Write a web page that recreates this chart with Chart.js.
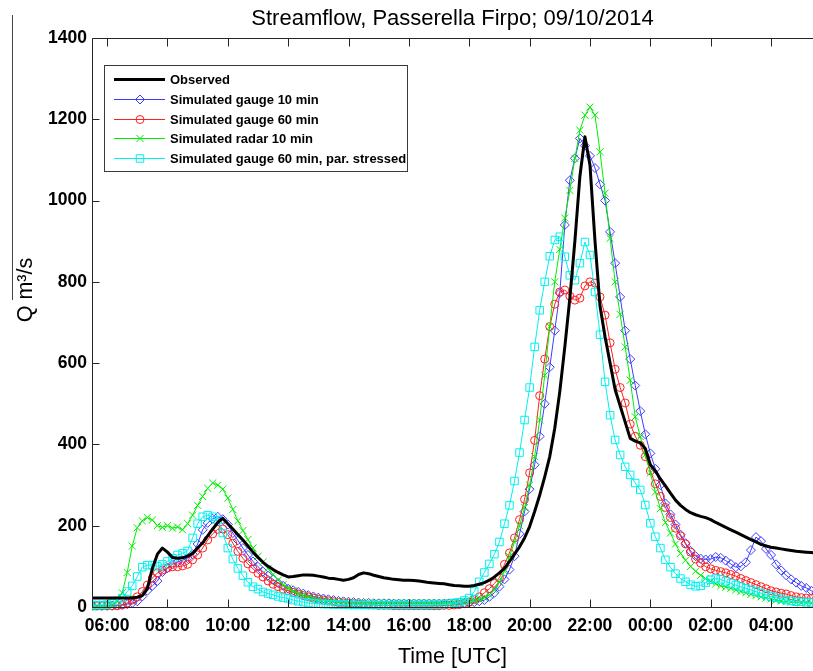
<!DOCTYPE html>
<html>
<head>
<meta charset="utf-8">
<title>Streamflow, Passerella Firpo</title>
<script src="https://cdn.jsdelivr.net/npm/chart.js@4.4.1/dist/chart.umd.min.js"></script>
<style>
  html, body { margin: 0; padding: 0; background: #fff; }
  #wrap { width: 813px; height: 671px; }
</style>
</head>
<body>
<div id="wrap"><canvas id="flowChart" width="813" height="671"></canvas></div>
<script>
// 10-minute samples, first one at 05:30 (09/10), last one at 05:30 next day
var START_HOUR = 5.5;
var STEP_HOURS = 1 / 6;

// Q [m3/s], one row per hour (first row 05:30-05:50, last row 05:00-05:30)
var observed = [
    22, 22, 22,
    22, 22, 22, 22, 22, 22,
    24, 28, 45, 95, 130, 145,
    135, 122, 120, 121, 125, 132,
    145, 158, 175, 192, 208, 218,
    205, 192, 178, 165, 150, 135,
    122, 110, 100, 92, 85, 79,
    74, 75, 77, 79, 79, 78,
    76, 74, 71, 70, 68, 66,
    68, 72, 80, 84, 82, 78,
    75, 72, 70, 68, 67, 66,
    66, 65, 64, 62, 60, 59,
    58, 57, 55, 53, 52, 51,
    51, 53, 56, 60, 66, 74,
    84, 95, 112, 130, 148, 170,
    198, 235, 275, 320, 370, 440,
    530, 640, 760, 900, 1060, 1157,
    1087, 900, 740, 665, 600, 535,
    495, 455, 415, 408, 404, 390,
    350, 335, 315, 298, 280, 263,
    250, 240, 232, 227, 223, 220,
    215, 208, 202, 196, 190, 184,
    178, 172, 166, 160, 154, 150,
    147, 145, 143, 141, 139, 137,
    136, 135, 134, 133
];

var gauge10 = [
    3, 3, 3,
    3, 3, 4, 5, 7, 10,
    14, 26, 40, 52, 64, 86,
    96, 105, 111, 115, 120, 130,
    155, 190, 207, 217, 222, 216,
    203, 182, 164, 145, 128, 112,
    99, 87, 77, 68, 59, 52,
    45, 41, 37, 33, 29, 26,
    23, 21, 19, 17, 15, 14,
    13, 12, 11, 10, 10, 9,
    9, 9, 9, 8, 8, 8,
    8, 8, 8, 8, 8, 8,
    8, 8, 9, 9, 10, 10,
    11, 12, 14, 17, 25, 35,
    50, 68, 92, 125, 180, 235,
    290, 350, 420, 500, 590, 680,
    772, 940, 1050, 1104, 1153, 1135,
    1110, 1080, 1040, 1000, 923, 846,
    763, 680, 610, 545, 482, 425,
    378, 340, 300, 255, 228, 203,
    178, 157, 138, 125, 119, 117,
    118, 123, 121, 114, 106, 98,
    100, 110, 140, 172, 162, 143,
    128, 105, 90, 78, 68, 60,
    52, 47, 40, 35
];

var gauge60 = [
    3, 3, 3,
    3, 3, 3, 5, 10, 17,
    25, 38, 54, 71, 84, 91,
    96, 99, 99, 101, 105, 116,
    128, 145, 165, 180, 191, 192,
    178, 157, 137, 120, 106, 94,
    83, 74, 64, 56, 50, 44,
    40, 36, 32, 28, 25, 22,
    19, 17, 15, 13, 11, 10,
    9, 8, 7, 6, 5, 5,
    4, 4, 4, 3, 3, 3,
    3, 3, 3, 3, 3, 3,
    3, 4, 4, 5, 6, 8,
    12, 18, 25, 35, 45, 58,
    72, 105, 133, 170, 215, 265,
    330, 410, 520, 610, 690, 745,
    775, 780, 765, 755, 760, 790,
    800, 797, 763, 718, 650, 585,
    540, 502, 450, 420, 398, 370,
    335, 303, 272, 245, 220, 194,
    175, 155, 135, 118, 108, 99,
    94, 90, 87, 84, 80, 76,
    70, 65, 60, 55, 50, 45,
    40, 37, 34, 32, 28, 25,
    23, 22, 21, 20
];

var radar10 = [
    0, 0, 1,
    3, 6, 14, 35, 85, 150,
    195, 212, 220, 214, 200, 196,
    200, 194, 197, 190, 205, 226,
    250, 272, 292, 305, 300, 290,
    268, 240, 212, 188, 166, 145,
    125, 111, 95, 80, 66, 55,
    46, 39, 33, 28, 24, 21,
    18, 16, 14, 13, 12, 11,
    10, 10, 10, 10, 10, 10,
    10, 10, 10, 10, 10, 10,
    10, 10, 10, 10, 10, 10,
    10, 10, 11, 11, 12, 13,
    14, 16, 19, 23, 30, 42,
    62, 88, 124, 160, 200, 245,
    300, 370, 460, 570, 690, 800,
    880, 957, 1025, 1104, 1173, 1210,
    1230, 1210, 1120, 1018, 907, 800,
    720, 640, 558, 468, 419, 375,
    330, 283, 242, 208, 182, 155,
    132, 115, 100, 88, 78, 70,
    63, 57, 52, 49, 46, 42,
    38, 35, 31, 28, 25, 22,
    20, 17, 15, 13, 12, 11,
    10, 10, 9, 9
];

var gauge60Stressed = [
    5, 5, 5,
    6, 9, 15, 22, 38, 52,
    75, 98, 103, 103, 100, 105,
    112, 120, 128, 132, 138, 170,
    205, 222, 226, 222, 214, 182,
    145, 118, 95, 77, 61, 50,
    44, 37, 33, 30, 26, 23,
    21, 17, 14, 12, 10, 9,
    8, 7, 7, 6, 6, 6,
    5, 5, 5, 5, 5, 5,
    5, 5, 5, 5, 5, 5,
    5, 5, 5, 5, 5, 6,
    6, 7, 8, 10, 12, 16,
    22, 38, 62, 85, 106, 130,
    160, 205, 250, 310, 380, 460,
    540, 640, 730, 800, 863, 903,
    911, 862, 816, 804, 846, 898,
    866, 775, 670, 554, 472, 411,
    374, 345, 325, 305, 288, 251,
    206, 173, 145, 116, 98, 82,
    70, 62, 55, 51, 52, 60,
    67, 70, 68, 63, 58, 54,
    50, 46, 42, 38, 34, 30,
    26, 23, 20, 17, 15, 13,
    13, 12, 11, 11
];

var tickHours = [6, 8, 10, 12, 14, 16, 18, 20, 22, 24, 26, 28];
var tickLabels = ['06:00', '08:00', '10:00', '12:00', '14:00', '16:00',
                  '18:00', '20:00', '22:00', '00:00', '02:00', '04:00'];
var seriesNames = ['Observed', 'Simulated gauge 10 min', 'Simulated gauge 60 min',
                   'Simulated radar 10 min', 'Simulated gauge 60 min, par. stressed'];

var FONT = "'Liberation Sans', Arial, sans-serif";
var AXIS_COLOR = '#262626';

function toPoints(values) {
    return values.map(function(v, i) {
        return { x: START_HOUR + i * STEP_HOURS, y: v };
    });
}

function markerPath(ctx, style, x, y, r) {
    ctx.beginPath();
    if (style === 'rectRot') {
        ctx.moveTo(x, y - r); ctx.lineTo(x + r, y); ctx.lineTo(x, y + r); ctx.lineTo(x - r, y);
        ctx.closePath();
    } else if (style === 'circle') {
        ctx.arc(x, y, r, 0, Math.PI * 2);
    } else if (style === 'crossRot') {
        var d = r * Math.SQRT1_2;
        ctx.moveTo(x - d, y - d); ctx.lineTo(x + d, y + d);
        ctx.moveTo(x + d, y - d); ctx.lineTo(x - d, y + d);
    } else if (style === 'rect') {
        var s = r * Math.SQRT1_2;
        ctx.rect(x - s, y - s, 2 * s, 2 * s);
    }
}

// MATLAB-like axes box, inward ticks, titles and legend
var matlabFrame = {
    id: 'matlabFrame',
    afterDraw: function(chart) {
        var ctx = chart.ctx;
        var area = chart.chartArea;
        var xs = chart.scales.x, ys = chart.scales.y;
        var L = area.left + 0.5, T = area.top + 0.5, B = area.bottom + 0.5, R = area.right - 0.5;

        ctx.save();
        ctx.strokeStyle = AXIS_COLOR;
        ctx.lineWidth = 1;
        ctx.beginPath();
        ctx.moveTo(R + 1, T); ctx.lineTo(L, T); ctx.lineTo(L, B); ctx.lineTo(R + 1, B);
        tickHours.forEach(function(h) {
            var px = Math.round(xs.getPixelForValue(h)) + 0.5;
            ctx.moveTo(px, B); ctx.lineTo(px, B - 8);
            ctx.moveTo(px, T); ctx.lineTo(px, T + 8);
        });
        ys.ticks.forEach(function(t) {
            var py = Math.round(ys.getPixelForValue(t.value)) + 0.5;
            ctx.moveTo(L, py); ctx.lineTo(L + 7, py);
        });
        ctx.stroke();

        // titles
        ctx.fillStyle = '#000';
        ctx.textAlign = 'center';
        ctx.textBaseline = 'alphabetic';
        ctx.font = '22px ' + FONT;
        ctx.fillText('Streamflow, Passerella Firpo; 09/10/2014', (area.left + area.right) / 2, 25);
        ctx.font = '21.5px ' + FONT;
        ctx.fillText('Time [UTC]', (area.left + area.right) / 2, 663);

        ctx.save();
        ctx.translate(32, 290);
        ctx.rotate(-Math.PI / 2);
        ctx.font = '21.5px ' + FONT;
        ctx.fillText('Q m\u00b3/s', 0, 0);
        ctx.restore();
        ctx.strokeStyle = '#444';
        ctx.beginPath();
        ctx.moveTo(12.5, 15); ctx.lineTo(12.5, 300);
        ctx.stroke();

        // legend
        var bx = 104.5, by = 65.5, bw = 303, bh = 106;
        ctx.fillStyle = '#fff';
        ctx.fillRect(bx, by, bw, bh);
        ctx.strokeStyle = '#3a3a3a';
        ctx.strokeRect(bx, by, bw, bh);
        ctx.font = 'bold 13px ' + FONT;
        ctx.textAlign = 'left';
        ctx.textBaseline = 'middle';
        chart.data.datasets.forEach(function(ds, i) {
            var ry = Math.round(79 + i * 19.8) + 0.5;
            ctx.strokeStyle = ds.borderColor;
            ctx.lineWidth = ds.borderWidth;
            ctx.beginPath();
            ctx.moveTo(114, ry); ctx.lineTo(165, ry);
            ctx.stroke();
            if (ds.pointRadius > 0) {
                ctx.lineWidth = 1;
                markerPath(ctx, ds.pointStyle, 140, ry, ds.pointRadius);
                ctx.stroke();
            }
            ctx.fillStyle = '#000';
            ctx.fillText(ds.label, 170, ry + 1);
        });
        ctx.restore();
    }
};

function lineSet(label, values, color, style, radius, order) {
    return {
        label: label,
        data: toPoints(values),
        borderColor: color,
        backgroundColor: color,
        borderWidth: 1,
        pointStyle: style,
        pointRadius: radius,
        pointBorderWidth: 1,
        pointBorderColor: color,
        pointBackgroundColor: 'rgba(0,0,0,0)',
        tension: 0,
        order: order,
        clip: { left: 0, top: 6, right: 6, bottom: 6 }
    };
}

var ctx = document.getElementById('flowChart').getContext('2d');
new Chart(ctx, {
    type: 'line',
    data: {
        datasets: [
            {
                label: seriesNames[0],
                data: toPoints(observed),
                borderColor: '#000000',
                borderWidth: 3,
                pointRadius: 0,
                tension: 0,
                order: 0,
                borderJoinStyle: 'round',
                clip: { left: 0, top: 6, right: 6, bottom: 6 }
            },
            lineSet(seriesNames[1], gauge10, '#3c3cff', 'rectRot', 4.5, 4),
            lineSet(seriesNames[2], gauge60, '#ff2020', 'circle', 4, 3),
            lineSet(seriesNames[3], radar10, '#00ee00', 'crossRot', 5, 2),
            lineSet(seriesNames[4], gauge60Stressed, '#00f0f0', 'rect', 5.3, 1)
        ]
    },
    options: {
        responsive: false,
        animation: false,
        events: [],
        layout: { autoPadding: false, padding: { top: 38, left: 0, right: 0, bottom: 0 } },
        plugins: {
            legend: { display: false },
            tooltip: { enabled: false },
            title: { display: false }
        },
        scales: {
            x: {
                type: 'linear',
                min: 5.5,
                max: 29.39,
                afterFit: function(scale) {
                    scale.height = 64;
                    scale.paddingLeft = 0;
                    scale.paddingRight = 0;
                },
                afterBuildTicks: function(scale) {
                    scale.ticks = tickHours.map(function(h) { return { value: h }; });
                },
                grid: { display: false, drawTicks: false },
                border: { display: false },
                ticks: {
                    autoSkip: false,
                    maxRotation: 0,
                    padding: 9,
                    color: '#000',
                    font: { family: FONT, size: 17.5, weight: 'bold' },
                    callback: function(value) {
                        var i = tickHours.indexOf(value);
                        return i >= 0 ? tickLabels[i] : '';
                    }
                }
            },
            y: {
                min: 0,
                max: 1400,
                afterFit: function(scale) {
                    scale.width = 92;
                    scale.paddingTop = 0;
                    scale.paddingBottom = 0;
                },
                grid: { display: false, drawTicks: false },
                border: { display: false },
                ticks: {
                    stepSize: 200,
                    padding: 5,
                    color: '#000',
                    font: { family: FONT, size: 17.5, weight: 'bold' },
                    callback: function(value) { return String(value); }
                }
            }
        }
    },
    plugins: [matlabFrame]
});
</script>
</body>
</html>
